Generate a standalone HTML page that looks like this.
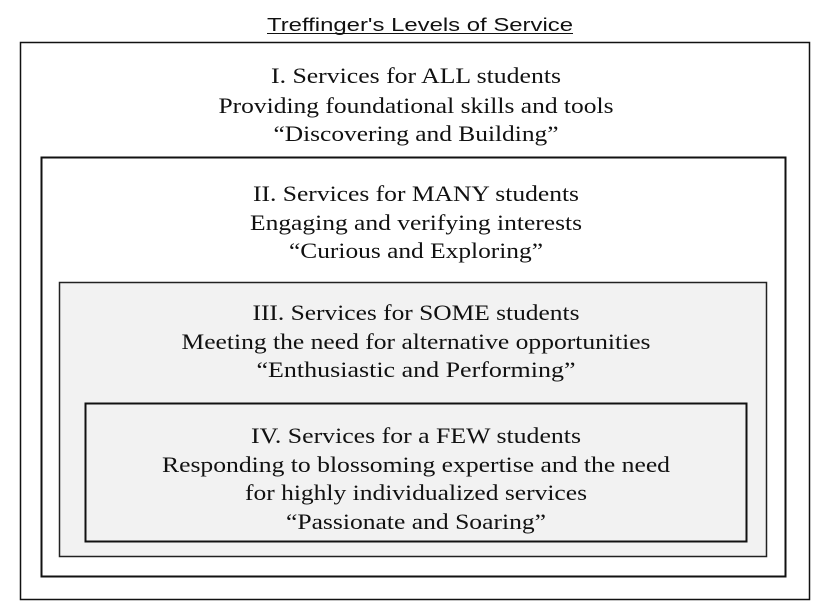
<!DOCTYPE html>
<html><head><meta charset="utf-8"><style>
html,body{margin:0;padding:0;background:#fff;}
svg{display:block;}
.t{font-family:"Liberation Serif","Times New Roman",serif;font-size:22px;fill:#111;}
</style></head><body>
<svg width="830" height="614">
<text x="420" y="31" text-anchor="middle" font-family="Liberation Sans, sans-serif" font-size="18" fill="#111" textLength="306" lengthAdjust="spacingAndGlyphs">Treffinger's Levels of Service</text>
<line x1="267" y1="33.5" x2="573" y2="33.5" stroke="#111" stroke-width="1"/>
<rect x="20.5" y="42.5" width="789" height="557" fill="#fff" stroke="#111" stroke-width="1.5"/>
<rect x="41.5" y="157.5" width="744" height="419" fill="#fff" stroke="#111" stroke-width="2"/>
<rect x="59.5" y="282.5" width="707" height="274" fill="#f2f2f2" stroke="#222" stroke-width="1.5"/>
<rect x="85.5" y="403.5" width="661" height="138" fill="#f2f2f2" stroke="#111" stroke-width="2"/>
<g class="t" text-anchor="middle">
<text x="416" y="83" textLength="290" lengthAdjust="spacingAndGlyphs">I. Services for ALL students</text>
<text x="416" y="113" textLength="395" lengthAdjust="spacingAndGlyphs">Providing foundational skills and tools</text>
<text x="416" y="141" textLength="285" lengthAdjust="spacingAndGlyphs">“Discovering and Building”</text>
<text x="416" y="201" textLength="326" lengthAdjust="spacingAndGlyphs">II. Services for MANY students</text>
<text x="416" y="230" textLength="332" lengthAdjust="spacingAndGlyphs">Engaging and verifying interests</text>
<text x="416" y="258" textLength="254" lengthAdjust="spacingAndGlyphs">“Curious and Exploring”</text>
<text x="416" y="320" textLength="327" lengthAdjust="spacingAndGlyphs">III. Services for SOME students</text>
<text x="416" y="349" textLength="469" lengthAdjust="spacingAndGlyphs">Meeting the need for alternative opportunities</text>
<text x="416" y="377" textLength="319" lengthAdjust="spacingAndGlyphs">“Enthusiastic and Performing”</text>
<text x="416" y="443" textLength="330" lengthAdjust="spacingAndGlyphs">IV. Services for a FEW students</text>
<text x="416" y="472" textLength="508" lengthAdjust="spacingAndGlyphs">Responding to blossoming expertise and the need</text>
<text x="416" y="500" textLength="342" lengthAdjust="spacingAndGlyphs">for highly individualized services</text>
<text x="416" y="529" textLength="260" lengthAdjust="spacingAndGlyphs">“Passionate and Soaring”</text>
</g>
</svg>
</body></html>
